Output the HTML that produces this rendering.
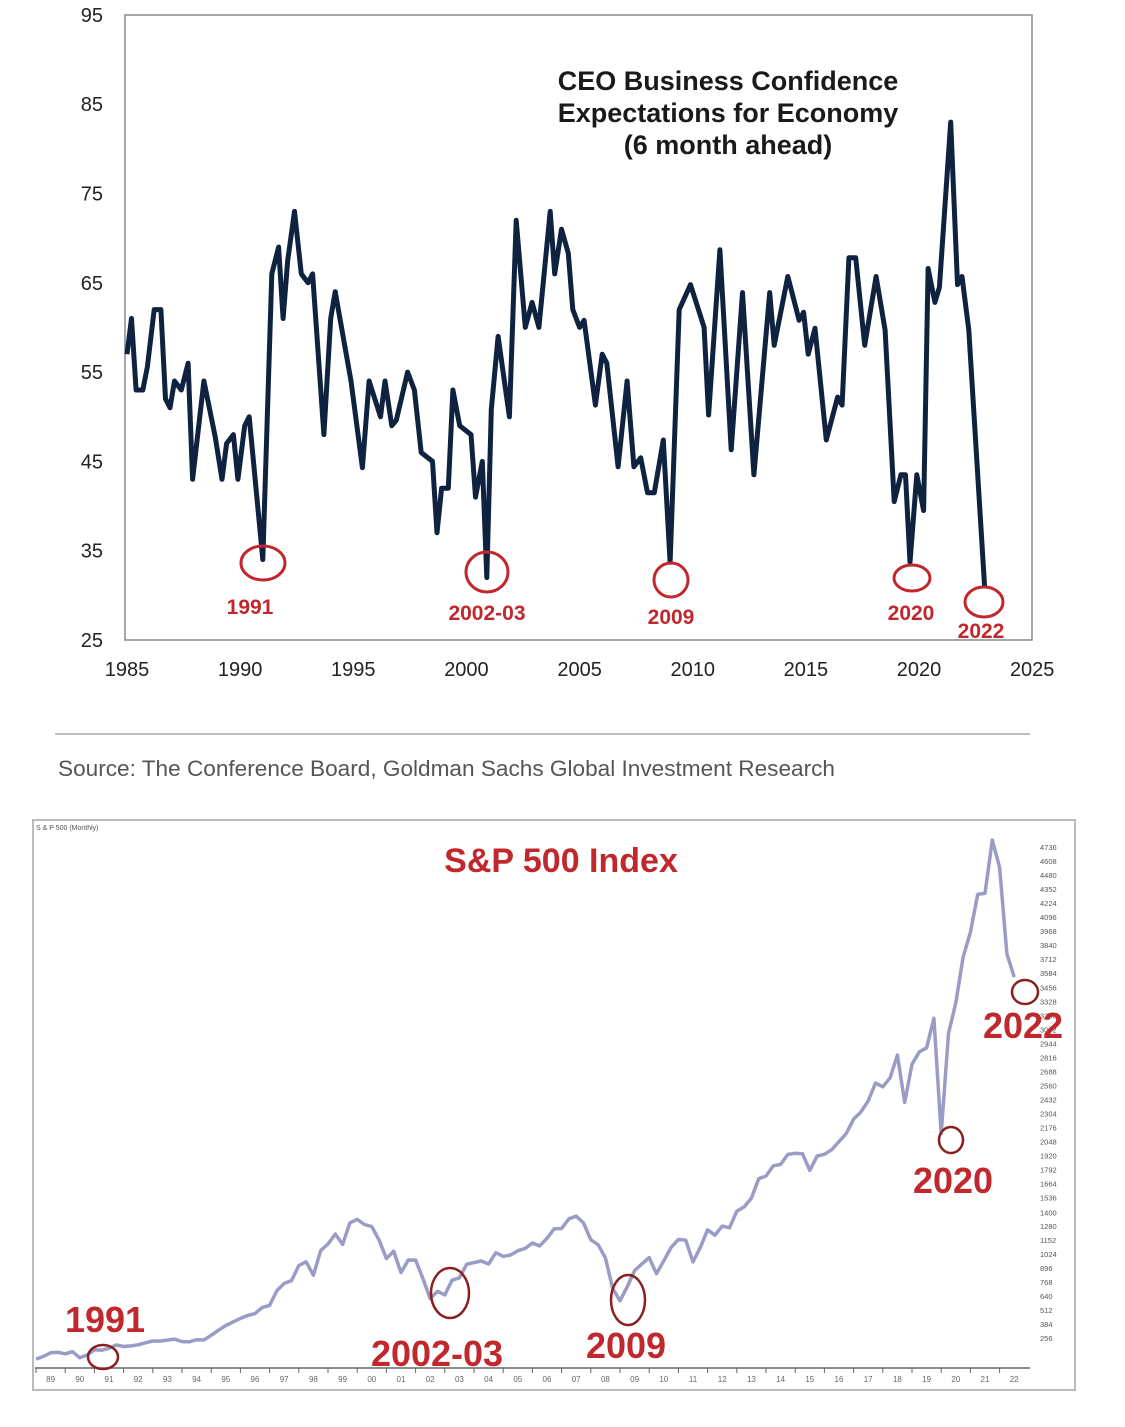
<!DOCTYPE html>
<html><head><meta charset="utf-8"><style>
body{margin:0;background:#fff;}
svg{display:block;font-family:"Liberation Sans",Arial,sans-serif;}
</style></head><body>
<svg id="svg" width="1125" height="1427" viewBox="0 0 1125 1427">
<g id="top">
<rect x="125" y="15" width="907" height="625" fill="none" stroke="#888" stroke-width="1.5"/>
<text x="728" y="90" text-anchor="middle" font-size="27" font-weight="bold" fill="#1a1a1a">CEO Business Confidence</text>
<text x="728" y="122" text-anchor="middle" font-size="27" font-weight="bold" fill="#1a1a1a">Expectations for Economy</text>
<text x="728" y="154" text-anchor="middle" font-size="27" font-weight="bold" fill="#1a1a1a">(6 month ahead)</text>
<g id="topYTicks"></g><g id="topXTicks"></g>
<polyline id="ceoLine" fill="none" stroke="#0f2340" stroke-width="5" stroke-linejoin="round"/>
<g fill="none" stroke="#c0282d" stroke-width="3">
<ellipse cx="263" cy="563" rx="22" ry="17"/>
<ellipse cx="487" cy="572" rx="21" ry="20"/>
<ellipse cx="671" cy="580" rx="17" ry="17"/>
<ellipse cx="912" cy="578" rx="18" ry="13"/>
<ellipse cx="984" cy="602" rx="19" ry="15"/>
</g>
<g fill="#c0282d" font-size="21" font-weight="bold" text-anchor="middle">
<text x="250" y="614">1991</text>
<text x="487" y="620">2002-03</text>
<text x="671" y="624">2009</text>
<text x="911" y="620">2020</text>
<text x="981" y="638">2022</text>
</g>
</g>
<line x1="55" y1="734" x2="1030" y2="734" stroke="#aaa" stroke-width="1.5"/>
<text x="58" y="776" font-size="22" fill="#555" textLength="777" lengthAdjust="spacingAndGlyphs">Source: The Conference Board, Goldman Sachs Global Investment Research</text>
<g id="bottom">
<rect x="33" y="820" width="1042" height="570" fill="none" stroke="#bbb" stroke-width="2"/>
<line x1="35" y1="1368" x2="1030" y2="1368" stroke="#666" stroke-width="1.5"/>
<text x="36" y="830" font-size="7" fill="#555">S &amp; P 500 (Monthly)</text>
<text x="561" y="872" text-anchor="middle" font-size="34" font-weight="bold" fill="#c0282d">S&amp;P 500 Index</text>
<g id="spYTicks"></g><g id="spXTicks"></g>
<polyline id="spLine" fill="none" stroke="#9a9cc6" stroke-width="3.5" stroke-linejoin="round"/>
<g fill="none" stroke="#8b1f1f" stroke-width="2.5">
<ellipse cx="103" cy="1357" rx="15" ry="12"/>
<ellipse cx="450" cy="1293" rx="19" ry="25"/>
<ellipse cx="628" cy="1300" rx="17" ry="25"/>
<ellipse cx="951" cy="1140" rx="12" ry="13"/>
<ellipse cx="1025" cy="992" rx="13" ry="12"/>
</g>
<g fill="#c0282d" font-size="36" font-weight="bold" text-anchor="middle">
<text x="105" y="1332">1991</text>
<text x="437" y="1366">2002-03</text>
<text x="626" y="1358">2009</text>
<text x="953" y="1193">2020</text>
<text x="1023" y="1038">2022</text>
</g>
</g>
</svg>
<script>
// CEO confidence data (vertex years and values)
const ceoYears=[1985.0,1985.2,1985.4,1985.7,1985.9,1986.2,1986.5,1986.7,1986.9,1987.1,1987.4,1987.7,1987.9,1988.4,1988.9,1989.2,1989.4,1989.7,1989.9,1990.2,1990.4,1991.0,1991.4,1991.7,1991.9,1992.1,1992.4,1992.7,1993.0,1993.2,1993.7,1994.0,1994.2,1994.9,1995.4,1995.7,1996.2,1996.4,1996.7,1996.9,1997.4,1997.7,1998.0,1998.5,1998.7,1998.9,1999.2,1999.4,1999.7,2000.2,2000.4,2000.7,2000.9,2001.1,2001.4,2001.9,2002.2,2002.6,2002.9,2003.2,2003.7,2003.9,2004.2,2004.5,2004.7,2005.0,2005.2,2005.7,2006.0,2006.2,2006.7,2007.1,2007.4,2007.7,2008.0,2008.3,2008.7,2009.0,2009.4,2009.9,2010.5,2010.7,2011.2,2011.7,2012.2,2012.7,2013.4,2013.6,2014.2,2014.7,2014.9,2015.1,2015.4,2015.9,2016.4,2016.6,2016.9,2017.2,2017.6,2018.1,2018.5,2018.9,2019.2,2019.4,2019.6,2019.9,2020.2,2020.4,2020.7,2020.9,2021.4,2021.7,2021.9,2022.2,2022.9];
const ceoValues=[57,61,53,53,55.6,62,62,52,51,54,53,56,43,54,47.7,43,47,48,43,49,50,34,66,69,61,67.5,73,66,65,66,48,61,64,54,44.3,54,50,54,49,49.6,55,53,46,45,37,42,42,53,49,48,41,45,32,50.8,59,50,72,60,62.8,60,73,66,71,68.3,62,60,60.8,51.3,57,56,44.4,54,44.4,45.4,41.5,41.5,47.4,33.7,62,64.8,60,50.2,68.7,46.3,63.9,43.5,63.9,58,65.7,60.8,61.7,57,59.9,47.4,52.2,51.3,67.8,67.8,58,65.7,59.7,40.5,43.5,43.5,33.7,43.5,39.5,66.6,62.8,64.5,83,64.8,65.7,59.7,30.8];
const ceoYTicks=[25,35,45,55,65,75,85,95];
const ceoXTicks=[1985,1990,1995,2000,2005,2010,2015,2020,2025];
// S&P 500 quarterly (approx) from 1989.0
const spStart=1989.0;
const spValues=[295,317,349,353,340,358,306,330,375,371,388,417,403,408,418,435,451,450,459,466,445,444,462,459,500,544,584,615,645,670,687,740,757,885,947,970,1101,1133,1017,1229,1286,1372,1282,1469,1498,1454,1436,1320,1160,1224,1040,1148,1147,989,815,879,848,974,995,1111,1126,1140,1114,1211,1180,1191,1228,1248,1294,1270,1335,1418,1420,1503,1526,1468,1322,1280,1166,903,797,919,1057,1115,1169,1030,1141,1257,1325,1320,1131,1257,1408,1362,1440,1426,1569,1606,1681,1848,1872,1960,1972,2058,2067,2063,1920,2043,2059,2098,2168,2238,2362,2423,2519,2673,2640,2718,2913,2506,2834,2941,2976,3230,2237,3100,3363,3756,3972,4297,4307,4766,4530,3785,3585];
const spYLabels=[256,384,512,640,768,896,1024,1152,1280,1400,1536,1664,1792,1920,2048,2176,2304,2432,2560,2688,2816,2944,3072,3200,3328,3456,3584,3712,3840,3968,4096,4224,4352,4480,4608,4736];
const spXLabels=["89","90","91","92","93","94","95","96","97","98","99","00","01","02","03","04","05","06","07","08","09","10","11","12","13","14","15","16","17","18","19","20","21","22"];

const NS="http://www.w3.org/2000/svg";
const cx=y=>127+(y-1985)*22.63;
const cy=v=>640-(v-25)*8.93;
const sx=t=>36+(t-1989)*29.2;
const sy=v=>1355-(v-330)*0.1161;
const sLabelY=v=>1338-(v-256)/128*14.03;
function mk(tag,attrs,parent,txt){const e=document.createElementNS(NS,tag);for(const k in attrs)e.setAttribute(k,attrs[k]);if(txt!==undefined)e.textContent=txt;parent.appendChild(e);return e;}

document.getElementById('ceoLine').setAttribute('points',ceoYears.map((y,i)=>cx(y).toFixed(1)+','+cy(ceoValues[i]).toFixed(1)).join(' '));
const gy=document.getElementById('topYTicks');
ceoYTicks.forEach(v=>{const t=mk('text',{x:103,y:cy(v)+7,'text-anchor':'end','font-size':20,fill:'#222'},gy,String(v));

});
const gx=document.getElementById('topXTicks');
ceoXTicks.forEach(v=>{const t=mk('text',{x:cx(v),y:676,'text-anchor':'middle','font-size':20,fill:'#222'},gx,String(v));

});

document.getElementById('spLine').setAttribute('points',spValues.map((v,i)=>sx(spStart+i*0.25).toFixed(1)+','+sy(v).toFixed(1)).join(' '));
const sgy=document.getElementById('spYTicks');
spYLabels.forEach(v=>{const t=mk('text',{x:1040,y:sLabelY(v)+3,'font-size':7.5,fill:'#555'},sgy,String(v));

});
const sgx=document.getElementById('spXTicks');
spXLabels.forEach((l,i)=>{const x=sx(1989+i+0.5);
const tk=mk('line',{x1:sx(1989+i),y1:1368,x2:sx(1989+i),y2:1373,stroke:'#666','stroke-width':1},sgx);


const t=mk('text',{x:x,y:1382,'text-anchor':'middle','font-size':8,fill:'#666'},sgx,l);

});
</script>
</body></html>
